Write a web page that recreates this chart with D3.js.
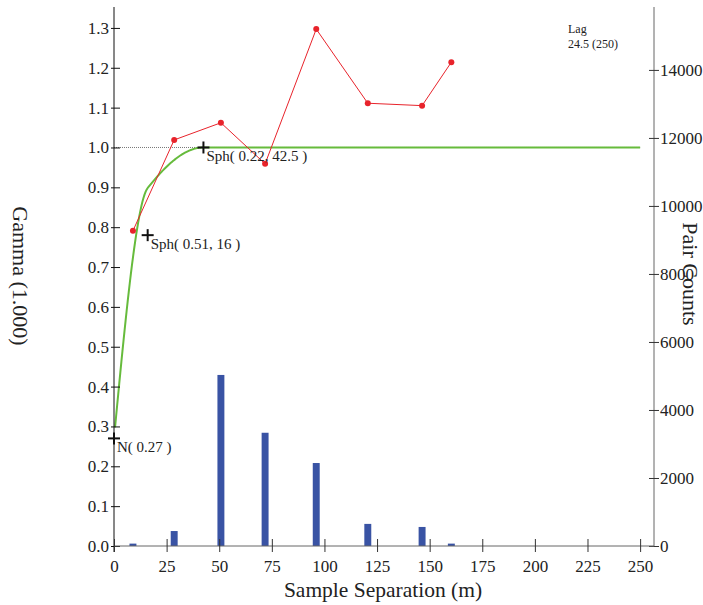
<!DOCTYPE html>
<html>
<head>
<meta charset="utf-8">
<script src="https://cdn.jsdelivr.net/npm/d3@7"></script>
<style>
  html, body { margin: 0; padding: 0; background: #fff; }
  svg { display: block; }
  svg text { font-family: "Liberation Serif", "DejaVu Serif", serif; }
</style>
</head>
<body>
<svg id="chart" width="703" height="605"></svg>
<script>
// Experimental variogram: lag centres (m), gamma values, pair counts per lag
const lagDistance = [9.0, 28.6, 50.8, 71.8, 96.1, 120.6, 146.4, 160.3];
const gammaValues = [0.791, 1.019, 1.062, 0.959, 1.297, 1.111, 1.105, 1.214];
const pairCounts  = [70, 440, 5030, 3330, 2440, 650, 560, 70];

// Fitted model: nugget plus two spherical structures (sill, range)
const nuggetSill = 0.27;
const structSills  = [0.51, 0.22];
const structRanges = [16, 42.5];
const modelLabels  = ["N( 0.27 )", "Sph( 0.51, 16 )", "Sph( 0.22, 42.5 )"];

// Axis tick values
const xTicks = [0, 25, 50, 75, 100, 125, 150, 175, 200, 225, 250];
const gammaTicks = [0.0, 0.1, 0.2, 0.3, 0.4, 0.5, 0.6, 0.7, 0.8, 0.9, 1.0, 1.1, 1.2, 1.3];
const countTicks = [0, 2000, 4000, 6000, 8000, 10000, 12000, 14000];

const lagInfo = ["Lag", "24.5 (250)"];

const svg = d3.select("#chart");

const x  = d3.scaleLinear().domain([0, 256.6]).range([114, 654]);
const yG = d3.scaleLinear().domain([0, 1.35]).range([546, 8]);
const yC = d3.scaleLinear().domain([0, 15850]).range([546, 7]);

const textColor = "#222";

// Pair-count bars (right axis)
const barHalf = 1.65;
svg.append("g").selectAll("rect")
  .data(lagDistance.map((d, i) => ({ lag: d, n: pairCounts[i] })))
  .join("rect")
  .attr("x", d => x(d.lag - barHalf))
  .attr("width", d => x(d.lag + barHalf) - x(d.lag - barHalf))
  .attr("y", d => yC(d.n))
  .attr("height", d => yC(0) - yC(d.n))
  .attr("fill", "#3953a4");

// Sill reference line
svg.append("line")
  .attr("x1", x(0)).attr("x2", x(250))
  .attr("y1", yG(1)).attr("y2", yG(1))
  .attr("stroke", "#777").attr("stroke-width", 1)
  .attr("stroke-dasharray", "1,1");

// Model curve
function sph(h, a) {
  if (h >= a) return 1;
  const r = h / a;
  return 1.5 * r - 0.5 * r * r * r;
}
function model(h) {
  return nuggetSill + structSills.reduce((s, c, i) => s + c * sph(h, structRanges[i]), 0);
}
const hs = d3.range(0.5, 250.01, 0.5);
svg.append("path")
  .datum(hs)
  .attr("fill", "none")
  .attr("stroke", "#66bb3c")
  .attr("stroke-width", 2)
  .attr("d", d3.line().x(h => x(h)).y(h => yG(model(h))));

// Experimental variogram line and points
const pts = lagDistance.map((d, i) => ({ lag: d, g: gammaValues[i] }));
svg.append("path")
  .datum(pts)
  .attr("fill", "none")
  .attr("stroke", "#e8232b")
  .attr("stroke-width", 1)
  .attr("d", d3.line().x(d => x(d.lag)).y(d => yG(d.g)));
svg.append("g").selectAll("circle")
  .data(pts)
  .join("circle")
  .attr("cx", d => x(d.lag))
  .attr("cy", d => yG(d.g))
  .attr("r", 3)
  .attr("fill", "#e8232b");

// Structure markers: cumulative sill at each structure's range
const markers = [
  { h: 0, g: nuggetSill, label: modelLabels[0] },
  { h: structRanges[0], g: nuggetSill + structSills[0], label: modelLabels[1] },
  { h: structRanges[1], g: nuggetSill + structSills[0] + structSills[1], label: modelLabels[2] }
];
const mk = svg.append("g");
markers.forEach(m => {
  const cx = x(m.h), cy = yG(m.g);
  mk.append("line").attr("x1", cx - 6).attr("x2", cx + 6).attr("y1", cy).attr("y2", cy)
    .attr("stroke", "#111").attr("stroke-width", 2);
  mk.append("line").attr("x1", cx).attr("x2", cx).attr("y1", cy - 6).attr("y2", cy + 6)
    .attr("stroke", "#111").attr("stroke-width", 2);
  mk.append("text").attr("x", cx + 3).attr("y", cy + 14)
    .style("font-size", "15px").attr("fill", textColor).text(m.label);
});

// Left axis (gamma)
const gAxL = svg.append("g").attr("transform", `translate(${x(0)},0)`)
  .call(d3.axisLeft(yG).tickValues(gammaTicks).tickFormat(d3.format(".1f"))
        .tickSize(3).tickPadding(2));
gAxL.attr("font-family", null);
gAxL.select(".domain").attr("d", `M0,${yG.range()[1] - 1}V552`).attr("stroke", "#111");
gAxL.selectAll(".tick line").attr("x1", 6).attr("stroke", "#111");
gAxL.selectAll(".tick text").style("font-size", "17px").attr("fill", textColor);

// Right axis (pair counts)
const gAxR = svg.append("g").attr("transform", `translate(${x.range()[1]},0)`)
  .call(d3.axisRight(yC).tickValues(countTicks).tickFormat(d3.format("d"))
        .tickSize(5).tickPadding(1));
gAxR.attr("font-family", null);
gAxR.select(".domain").attr("d", `M0,${yC.range()[1]}V${yC(0)}`).attr("stroke", "#666");
gAxR.selectAll(".tick line").attr("x1", -5).attr("stroke", "#333");
gAxR.selectAll(".tick text").style("font-size", "17px").attr("fill", textColor);

// Bottom axis (separation)
const gAxB = svg.append("g").attr("transform", `translate(0,${yG(0)})`)
  .call(d3.axisBottom(x).tickValues(xTicks).tickSize(6).tickPadding(8));
gAxB.attr("font-family", null);
gAxB.select(".domain").attr("d", `M${x(0)},0H${x.range()[1]}`).attr("stroke", "#666");
gAxB.selectAll(".tick line").attr("y1", -7).attr("stroke", "#333");
gAxB.selectAll(".tick text").style("font-size", "17px").attr("fill", textColor);

// Axis titles
svg.append("text")
  .attr("x", 383).attr("y", 597)
  .attr("text-anchor", "middle").style("font-size", "21.5px").attr("fill", textColor)
  .text("Sample Separation (m)");
svg.append("text")
  .attr("transform", "translate(13,276) rotate(90)")
  .attr("text-anchor", "middle").style("font-size", "22px").attr("fill", textColor)
  .text("Gamma (1.000)");
svg.append("text")
  .attr("transform", "translate(683,274) rotate(90)")
  .attr("text-anchor", "middle").style("font-size", "22px").attr("fill", textColor)
  .text("Pair Counts");

// Lag annotation
svg.append("g").selectAll("text")
  .data(lagInfo)
  .join("text")
  .attr("x", 568)
  .attr("y", (d, i) => 33 + i * 15)
  .style("font-size", "12px").attr("fill", textColor)
  .text(d => d);
</script>
</body>
</html>
